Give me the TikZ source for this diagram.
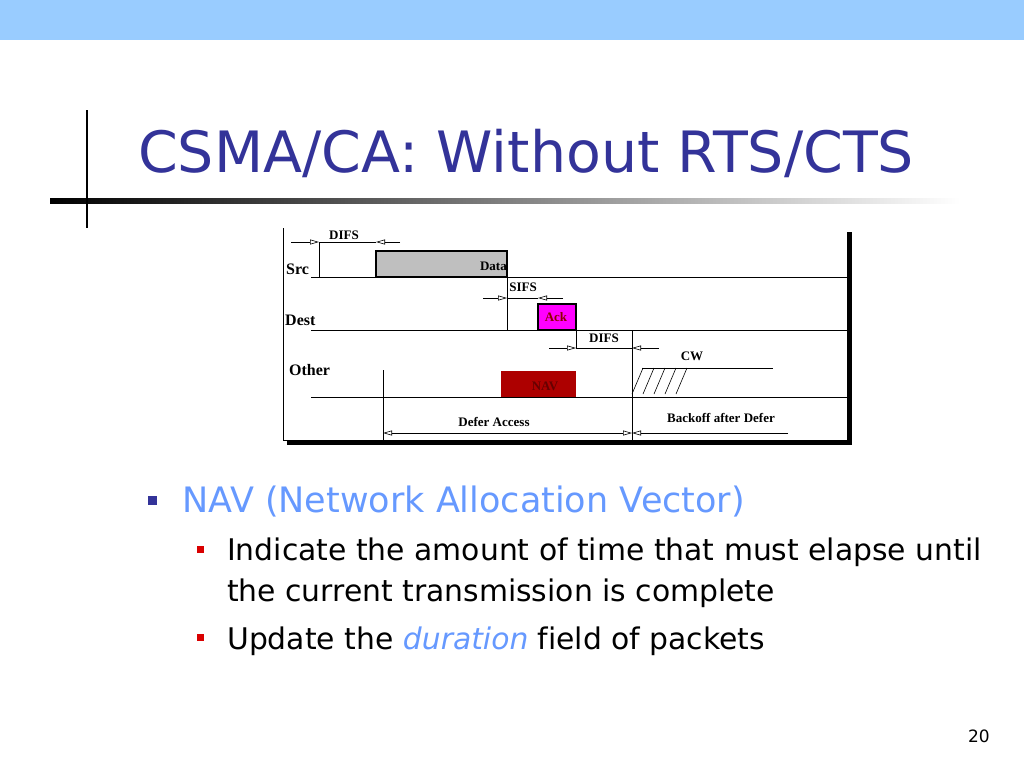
\documentclass[tikz,border=0pt]{standalone}
\usepackage{fontspec}
\setmainfont{DejaVu Sans}[Ligatures=NoCommon]
\newfontfamily\diafont{Liberation Serif}
\usetikzlibrary{arrows.meta,positioning}
\definecolor{band}{HTML}{99CCFF}
\definecolor{titleblue}{HTML}{333399}
\definecolor{navred}{HTML}{CC0000}
\definecolor{ackpink}{HTML}{FF00FF}
\definecolor{lightblue}{HTML}{6699FF}
\begin{document}
\begin{tikzpicture}[x=1pt,y=-1pt,
		lbl/.style={font=\diafont\bfseries\fontsize{16}{16}\selectfont,inner sep=0pt},
		small/.style={font=\diafont\bfseries\fontsize{13}{13}\selectfont,inner sep=0pt},
		tl/.style={line width=0.6pt},
		ar/.style={tl,-{Triangle[open,length=9pt,width=5pt]}},
		pkt/.style={draw,line width=1.6pt,inner sep=0pt}
	]
	\useasboundingbox (0,0) rectangle (1024,768);
	\fill[white] (0,0) rectangle (1024,768);
	\fill[band] (0,0) rectangle (1024,40);
	% title
	\shade[left color=black,right color=white] (50,198) rectangle (960,203);
	\draw[line width=2.5pt] (87,110) -- (87,228);
	\node[anchor=base west,text=titleblue,font=\fontsize{57}{57}\selectfont,inner sep=0pt] (title) at (138,172) {CSMA/CA: Without RTS/CTS};
	%
	% timing chart
	\fill[black] (287,440) rectangle (852,445);
	\fill[black] (847,232) rectangle (852,445);
	\fill[white] (283,228) rectangle (847,440);
	\draw[tl] (283,228) -- (283,440) -- (847,440);
	\node[lbl,anchor=base west] (src) at (286,274) {Src};
	\node[lbl,anchor=base west] (dest) at (285,325) {Dest};
	\node[lbl,anchor=base west] (other) at (289,375) {Other};
	\coordinate (srcL) at (311,277);  \coordinate (srcR) at (848,277);
	\coordinate (destL) at (311,330); \coordinate (destR) at (848,330);
	\coordinate (othL) at (311,397);  \coordinate (othR) at (848,397);
	\draw[tl] (srcL) -- (srcR) (destL) -- (destR) (othL) -- (othR);
	% packets
	\draw[pkt,fill=black!25] (376,251) rectangle (507,277);
	\node[small,anchor=base east] (data) at (507,270) {Data};
	\draw[pkt,fill=ackpink] (538,304) rectangle (576,330);
	\node[small,text=navred!70!black] (ack) at (556,317) {Ack};
	\fill[navred!85!black] (501,371) rectangle (576,397);
	\node[small,text=navred!50!black] (nav) at (545,386) {NAV};
	% DIFS (src)
	\coordinate (d1a) at (291,242); \coordinate (d1b) at (319,242);
	\coordinate (d1c) at (400,242); \coordinate (d1d) at (376,242);
	\draw[ar] (d1a) -- (d1b);
	\draw[ar] (d1c) -- (d1d);
	\draw[tl] (d1b) -- (d1d);
	\draw[tl] (319,242) -- (319,277);
	\node[small,anchor=base] (difsA) at (344,239) {DIFS};
	% SIFS
	\coordinate (s1a) at (483,298); \coordinate (s1b) at (507,298);
	\coordinate (s1c) at (563,298); \coordinate (s1d) at (538,298);
	\draw[ar] (s1a) -- (s1b);
	\draw[ar] (s1c) -- (s1d);
	\draw[tl] (s1b) -- (s1d);
	\draw[tl] (507,277) -- (507,331);
	\node[small,anchor=base] (sifs) at (523,291) {SIFS};
	% DIFS (other)
	\coordinate (d2a) at (549,348); \coordinate (d2b) at (576,348);
	\coordinate (d2c) at (659,348); \coordinate (d2d) at (632,348);
	\draw[ar] (d2a) -- (d2b);
	\draw[ar] (d2c) -- (d2d);
	\draw[tl] (d2b) -- (d2d);
	\draw[tl] (576,330) -- (576,348);
	\draw[tl] (632,330) -- (632,442);
	\node[small,anchor=base] (difsB) at (604,342) {DIFS};
	% contention window
	\node[small,anchor=base] (cw) at (692,360) {CW};
	\draw[tl] (642,368) -- (773,368);
	\foreach \i in {0,...,4}
		\draw[tl] (632+\i*11,394) -- (643+\i*11,368);
	% defer / backoff
	\draw[tl] (383,370) -- (383,442);
	\coordinate (dfL) at (383,433); \coordinate (dfR) at (632,433);
	\coordinate (bkR) at (788,433);
	\draw[tl,{Triangle[open,length=9pt,width=5pt]}-{Triangle[open,length=9pt,width=5pt]}] (dfL) -- (dfR);
	\draw[ar] (bkR) -- (dfR);
	\node[small,anchor=base] (defer) at (494,426) {Defer Access};
	\node[small,anchor=base] (backoff) at (721,422) {Backoff after Defer};
	%
	% bullets
	\fill[titleblue] (148,496) rectangle (157,505);
	\node[anchor=base west,inner sep=0pt,text=lightblue,font=\fontsize{35}{35}\selectfont] (nav1) at (182,512) {NAV (Network Allocation Vector)};
	\fill[red!85!black] (197,546) rectangle (204,553);
	\fill[red!85!black] (197,634) rectangle (204,641);
	\node[anchor=base west,inner sep=0pt,font=\fontsize{29.8}{29.8}\selectfont] (sub1) at (227,560) {Indicate the amount of time that must elapse until};
	\node[anchor=base west,inner sep=0pt,font=\fontsize{29.8}{29.8}\selectfont] (sub1b) at (227,601) {the current transmission is complete};
	\node[anchor=base west,inner sep=0pt,font=\fontsize{29.8}{29.8}\selectfont] (sub2) at (227,649) {Update the \textcolor{lightblue}{\itshape duration} field of packets};
	\node[anchor=base east,inner sep=0pt,font=\fontsize{17}{17}\selectfont] (page) at (990,742) {20};
\end{tikzpicture}
\end{document}
